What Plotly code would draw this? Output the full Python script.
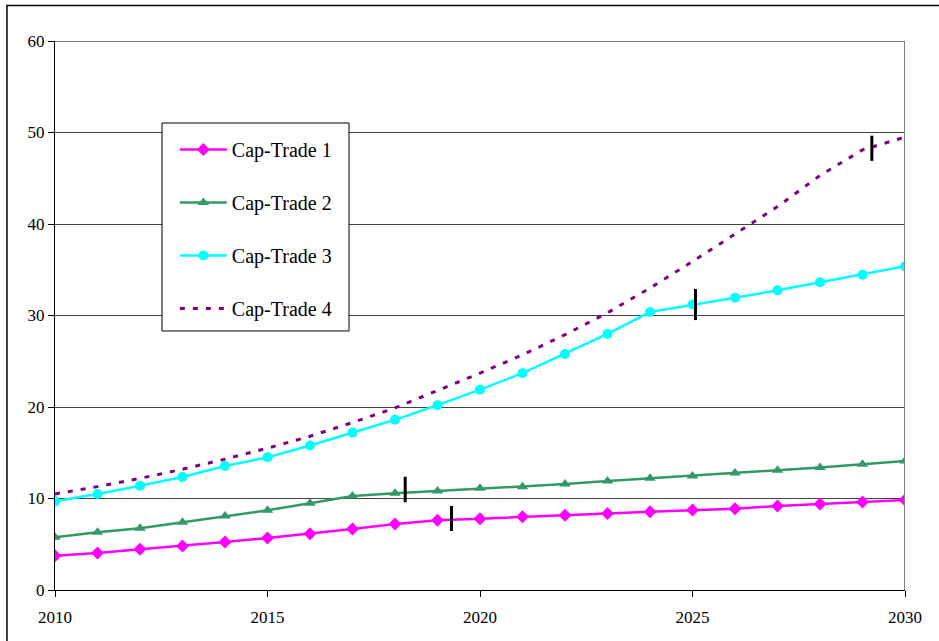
import plotly.graph_objects as go

# Years on the horizontal axis
years = list(range(2010, 2031))

# Series values
cap_trade_1 = [3.75, 4.04, 4.45, 4.81, 5.25, 5.68, 6.15, 6.67, 7.21, 7.62, 7.80,
               8.01, 8.16, 8.35, 8.55, 8.74, 8.89, 9.18, 9.40, 9.62, 9.84]
cap_trade_2 = [5.76, 6.30, 6.74, 7.40, 8.09, 8.71, 9.48, 10.27, 10.57, 10.82, 11.11,
               11.29, 11.58, 11.90, 12.20, 12.45, 12.80, 13.10, 13.40, 13.75, 14.10]
cap_trade_3 = [9.69, 10.50, 11.40, 12.35, 13.55, 14.50, 15.80, 17.20, 18.60, 20.20, 21.90,
               23.70, 25.80, 27.98, 30.38, 31.20, 31.95, 32.75, 33.63, 34.46, 35.38]
cap_trade_4 = [10.5, 11.3, 12.2, 13.2, 14.3, 15.5, 16.8, 18.3, 19.9, 21.8, 23.7,
               25.7, 27.9, 30.3, 33.0, 35.9, 38.9, 41.9, 45.3, 48.1, 49.5]

# Short vertical markers on each series (year, low value, high value)
mark_years = [2019.33, 2018.24, 2025.07, 2029.22]
mark_low = [6.45, 9.58, 29.5, 46.9]
mark_high = [9.18, 12.38, 32.9, 49.65]

# Axis ticks
x_ticks = [2010, 2015, 2020, 2025, 2030]
y_ticks = [0, 10, 20, 30, 40, 50, 60]

FONT = "Liberation Serif"

fig = go.Figure()

fig.add_trace(go.Scatter(
    x=years, y=cap_trade_1, name="Cap-Trade 1", mode="lines+markers",
    line=dict(color="#FF00FF", width=2.5),
    marker=dict(symbol="diamond", size=10, color="#FF00FF"),
    legendgroup="g1"))
fig.add_trace(go.Scatter(
    x=years, y=cap_trade_2, name="Cap-Trade 2", mode="lines+markers",
    line=dict(color="#339966", width=2.5),
    marker=dict(symbol="triangle-up", size=10, color="#339966"),
    legendgroup="g2"))
fig.add_trace(go.Scatter(
    x=years, y=cap_trade_3, name="Cap-Trade 3", mode="lines+markers",
    line=dict(color="#00FFFF", width=2.5),
    marker=dict(symbol="circle", size=10, color="#00FFFF"),
    legendgroup="g3"))
fig.add_trace(go.Scatter(
    x=years, y=cap_trade_4, name="Cap-Trade 4", mode="lines",
    line=dict(color="#800080", width=3, dash="5px,8px"),
    legendgroup="g4"))

for xm, lo, hi in zip(mark_years, mark_low, mark_high):
    fig.add_trace(go.Scatter(
        x=[xm, xm], y=[lo, hi], mode="lines",
        line=dict(color="black", width=3), showlegend=False, hoverinfo="skip"))

# Plot frame: black top edge, grey right edge
fig.add_shape(type="line", xref="paper", yref="y", x0=0, x1=1, y0=60, y1=60,
              line=dict(color="black", width=1))
fig.add_shape(type="line", xref="x", yref="paper", x0=2030, x1=2030, y0=0, y1=1,
              line=dict(color="#808080", width=2))
# Outer chart border
fig.add_shape(type="rect", xref="paper", yref="paper",
              x0=-0.0565, x1=1.2, y0=-0.3, y1=1.0647,
              line=dict(color="black", width=1.5), fillcolor="rgba(0,0,0,0)", layer="below")
# Legend box (opaque, drawn over the plot)
fig.add_shape(type="rect", xref="paper", yref="paper",
              x0=0.1259, x1=0.3459, y0=0.4718, y1=0.8506,
              line=dict(color="black", width=1), fillcolor="white", layer="above")

fig.update_layout(
    width=939, height=641,
    margin=dict(l=55, r=34, t=41, b=51),
    paper_bgcolor="white", plot_bgcolor="white",
    font=dict(family=FONT, color="black", size=17),
    showlegend=True,
    legend=dict(
        x=0.141, y=0.8379, xanchor="left", yanchor="top",
        bgcolor="rgba(0,0,0,0)", borderwidth=0,
        font=dict(family=FONT, size=20, color="black"),
        tracegroupgap=24, itemwidth=47,
    ),
    xaxis=dict(
        range=[2010, 2030], tickmode="array", tickvals=x_ticks,
        ticktext=[str(v) for v in x_ticks],
        showgrid=False, zeroline=False, showline=True, linecolor="black", linewidth=1,
        ticks="outside", ticklen=6, tickcolor="black", ticklabelstandoff=6,
        tickfont=dict(family=FONT, size=17, color="black"),
    ),
    yaxis=dict(
        range=[0, 60], tickmode="array", tickvals=y_ticks,
        showgrid=True, gridcolor="#444444", gridwidth=1, zeroline=False,
        showline=True, linecolor="black", linewidth=1,
        ticks="outside", ticklen=6, tickcolor="black",
        tickfont=dict(family=FONT, size=17, color="black"),
    ),
)

fig.write_html("out.html")
